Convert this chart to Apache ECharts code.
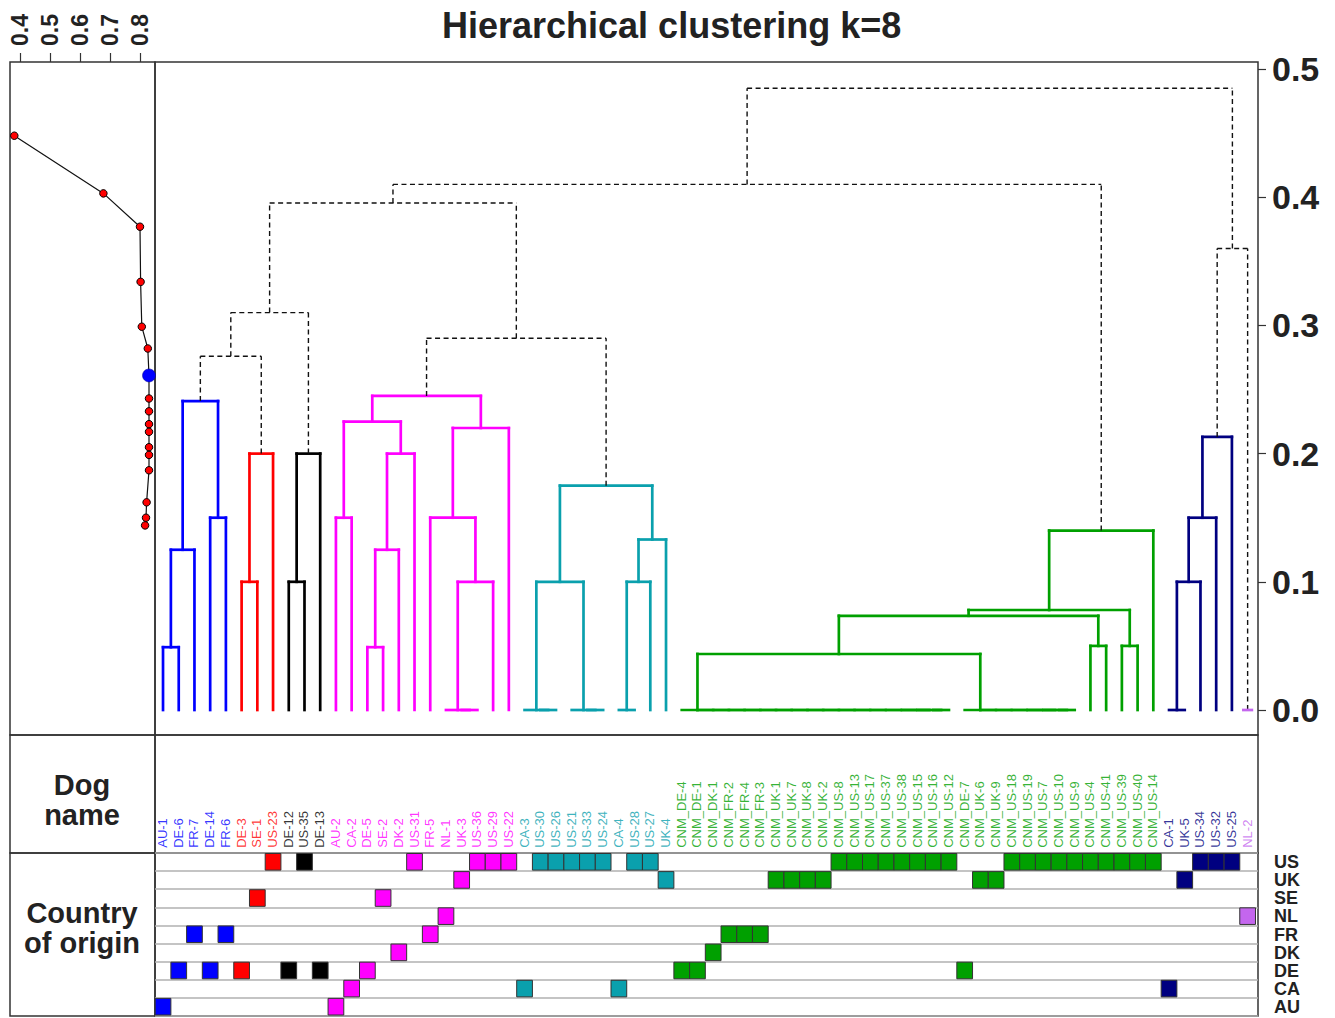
<!DOCTYPE html>
<html>
<head>
<meta charset="utf-8">
<script src="https://cdn.jsdelivr.net/npm/echarts@6/dist/echarts.min.js"></script>
<style>html,body{margin:0;padding:0;background:#fff}#c{width:1335px;height:1018px}</style>
</head>
<body>
<div id="c"></div>
<script>
// ---------------- DATA ----------------
const leafNames = ['AU-1','DE-6','FR-7','DE-14','FR-6','DE-3','SE-1','US-23','DE-12','US-35','DE-13',
 'AU-2','CA-2','DE-5','SE-2','DK-2','US-31','FR-5','NL-1','UK-3','US-36','US-29','US-22',
 'CA-3','US-30','US-26','US-21','US-33','US-24','CA-4','US-28','US-27','UK-4',
 'CNM_DE-4','CNM_DE-1','CNM_DK-1','CNM_FR-2','CNM_FR-4','CNM_FR-3','CNM_UK-1','CNM_UK-7','CNM_UK-8','CNM_UK-2',
 'CNM_US-8','CNM_US-13','CNM_US-17','CNM_US-37','CNM_US-38','CNM_US-15','CNM_US-16','CNM_US-12',
 'CNM_DE-7','CNM_UK-6','CNM_UK-9','CNM_US-18','CNM_US-19','CNM_US-7','CNM_US-10','CNM_US-9','CNM_US-4',
 'CNM_US-41','CNM_US-39','CNM_US-40','CNM_US-14','CA-1','UK-5','US-34','US-32','US-25','NL-2'];

const leafCluster = [0,0,0,0,0, 1,1,1, 2,2,2,
 3,3,3,3,3,3,3,3,3,3,3,3,
 4,4,4,4,4,4,4,4,4,4,
 5,5,5,5,5,5,5,5,5,5,5,5,5,5,5,5,5,5,5,5,5,5,5,5,5,5,5,5,5,5,5,
 6,6,6,6,6, 7];

const clusterColors = ['#0000FF','#FF0000','#000000','#FF00FF','#0AA0AD','#00A000','#000080','#C466EE'];

const countries = ['AU','CA','DE','DK','FR','NL','SE','UK','US']; // bottom to top

// merges (hclust style): negative = leaf (1-based), positive = earlier merge (1-based), height
const merges = [
 [-1,-2,0.049],[1,-3,0.125],[-4,-5,0.150],[2,3,0.241],
 [-6,-7,0.100],[5,-8,0.200],
 [-9,-10,0.100],[7,-11,0.200],
 [4,6,0.276],[9,8,0.310],
 [-12,-13,0.150],[-14,-15,0.049],[12,-16,0.125],[13,-17,0.200],[11,14,0.225],
 [-20,-21,0],[-19,16,0],[17,-22,0.100],[-18,18,0.150],[19,-23,0.220],[15,20,0.245],
 [-25,-26,0],[-24,22,0],[-28,-29,0],[-27,24,0],[23,25,0.100],
 [-30,-31,0],[27,-32,0.100],[28,-33,0.133],[26,29,0.175],
 [21,30,0.290],[10,31,0.3955],
 [-50,-51,0],[-49,33,0],[-48,34,0],[-47,35,0],[-46,36,0],[-45,37,0],[-44,38,0],[-43,39,0],
 [-42,40,0],[-41,41,0],[-40,42,0],[-39,43,0],[-38,44,0],[-37,45,0],[-36,46,0],[-35,47,0],[-34,48,0],
 [-58,-59,0],[-57,50,0],[-56,51,0],[-55,52,0],[-54,53,0],[-53,54,0],[-52,55,0],
 [49,56,0.0437],[-60,-61,0.050],[57,58,0.0735],[-62,-63,0.050],[59,60,0.078],[61,-64,0.140],
 [-65,-66,0],[63,-67,0.100],[64,-68,0.150],[65,-69,0.213],[66,-70,0.360],
 [32,62,0.410],[68,67,0.485]
];

const heightTicks = [0,0.1,0.2,0.3,0.4,0.5];

// left panel: score per k, at cut height
const kValues   = [2,3,4,5,6,7,8,9,10,11,12,13,14,15,16,17,18];
const scores    = [0.381,0.678,0.800,0.802,0.806,0.826,0.830,0.830,0.830,0.830,0.830,0.830,0.830,0.830,0.822,0.820,0.817];
const cutHeights= [0.448,0.403,0.377,0.334,0.299,0.282,0.261,0.243,0.233,0.223,0.217,0.205,0.199,0.187,0.162,0.150,0.144];
const scoreTicks = [0.4,0.5,0.6,0.7,0.8];
const selectedK = 8;

// ---------------- BUILD ----------------
const FONT = '"Liberation Sans", Arial, Helvetica, sans-serif';
const nodes = [];
function getNode(id){
  if (id < 0) return {x: -id, h: 0, cls: leafCluster[-id-1]};
  return nodes[id-1];
}
const segs = [];
merges.forEach(m => {
  const a = getNode(m[0]), b = getNode(m[1]), H = m[2];
  const cls = (a.cls === b.cls) ? a.cls : -1;
  segs.push([a.x, a.h, a.x, H, cls]);
  segs.push([b.x, b.h, b.x, H, cls]);
  segs.push([a.x, H, b.x, H, cls]);
  nodes.push({x:(a.x+b.x)/2, h:H, cls:cls});
});
// singleton cluster marks
const counts = {};
leafCluster.forEach(c => counts[c] = (counts[c]||0)+1);
leafCluster.forEach((c,i) => { if (counts[c] === 1) segs.push([i+1-0.27, 0, i+1+0.27, 0, c]); });

const leafCountry = leafNames.map(n => n.replace('CNM_','').split('-')[0]);
const cellData = leafNames.map((n,i) => [i+1, countries.indexOf(leafCountry[i]), leafCluster[i]]);

const X_MIN = 0.49, X_MAX = 70.66, Y_MIN = -0.0195, Y_MAX = 0.5055;
const frame = {show:true, borderColor:'#333', borderWidth:1.5, backgroundColor:'transparent'};

const option = {
  animation: false,
  backgroundColor: '#ffffff',
  title: { text: 'Hierarchical clustering k=8', left: 437, top: 2,
    textStyle: { fontFamily: FONT, fontSize: 36, fontWeight: 'bold', color: '#222' } },
  grid: [
    Object.assign({left:155, top:62, width:1103, height:673}, frame),
    Object.assign({left:10, top:62, width:145, height:673}, frame),
    Object.assign({left:155, top:735, width:1103, height:118}, frame),
    Object.assign({left:155, top:853, width:1103, height:163}, frame)
  ],
  xAxis: [
    {gridIndex:0, type:'value', min:X_MIN, max:X_MAX, show:false},
    {gridIndex:1, type:'value', min:0.4-10/300, max:0.85, position:'top',
      axisLine:{show:false, onZero:false}, splitLine:{show:false},
      axisTick:{show:true, inside:false, length:9, customValues:scoreTicks, lineStyle:{color:'#333', width:1.2}},
      axisLabel:{show:true, customValues:scoreTicks, rotate:-90, margin:16, fontFamily:FONT, fontSize:23, fontWeight:'bold', color:'#222',
        formatter: v => v.toFixed(1)}},
    {gridIndex:2, type:'value', min:X_MIN, max:X_MAX, show:false},
    {gridIndex:3, type:'value', min:X_MIN, max:X_MAX, show:false}
  ],
  yAxis: [
    {gridIndex:0, type:'value', min:Y_MIN, max:Y_MAX, position:'right',
      axisLine:{show:false, onZero:false}, splitLine:{show:false},
      axisTick:{show:true, inside:false, length:8, customValues:heightTicks, lineStyle:{color:'#333', width:1.2}},
      axisLabel:{show:true, customValues:heightTicks, margin:14, fontFamily:FONT, fontSize:34, fontWeight:'bold', color:'#222',
        formatter: v => v.toFixed(1)}},
    {gridIndex:1, type:'value', min:Y_MIN, max:Y_MAX, show:false},
    {gridIndex:2, type:'value', min:0, max:1, show:false},
    {gridIndex:3, type:'category', data:countries, position:'right',
      axisLine:{show:false, onZero:false}, axisTick:{show:false},
      splitLine:{show:true, interval:0, lineStyle:{color:'#b0b0b0', width:1.5}},
      axisLabel:{show:true, interval:0, margin:16, fontFamily:FONT, fontSize:18, fontWeight:'bold', color:'#222', lineHeight:17}}
  ],
  series: [
    { type:'custom', xAxisIndex:0, yAxisIndex:0, data:segs, encode:{x:[0,2], y:[1,3]}, clip:false,
      renderItem: function(params, api){
        const p1 = api.coord([api.value(0), api.value(1)]);
        const p2 = api.coord([api.value(2), api.value(3)]);
        const c = api.value(4);
        const dashed = c < 0;
        return {type:'line', shape:{x1:p1[0], y1:p1[1], x2:p2[0], y2:p2[1]},
          style:{stroke: dashed ? '#111' : clusterColors[c], lineWidth: dashed ? 1.4 : 2.7,
            lineDash: dashed ? [5,3.5] : null, lineCap: dashed ? 'butt' : 'square'}};
      }},
    { type:'line', xAxisIndex:1, yAxisIndex:1, clip:false,
      data: scores.map((s,i) => {
        const sel = kValues[i] === selectedK;
        return sel ? {value:[s, cutHeights[i]], symbolSize:13, itemStyle:{color:'#0000FF', borderColor:'#00008a', borderWidth:0.5}}
                   : {value:[s, cutHeights[i]]};
      }),
      symbol:'circle', symbolSize:7.5,
      itemStyle:{color:'#FF0000', borderColor:'#000', borderWidth:1},
      lineStyle:{color:'#111', width:1.2}, z:3 },
    { type:'scatter', xAxisIndex:2, yAxisIndex:2, symbolSize:1, itemStyle:{color:'rgba(0,0,0,0)'}, clip:false,
      data: leafNames.map((n,i) => ({value:[i+1, 0.04], name:n, label:{color: clusterColors[leafCluster[i]]}})),
      label:{show:true, formatter:'{b}', position:[0,0], rotate:90, align:'left', verticalAlign:'middle',
        fontFamily:FONT, fontSize:13}},
    { type:'custom', xAxisIndex:3, yAxisIndex:3, data:cellData, encode:{x:0, y:1},
      renderItem: function(params, api){
        const c = api.coord([api.value(0), api.value(1)]);
        const s = api.size([1,1]);
        return {type:'rect', shape:{x:c[0]-s[0]/2, y:c[1]-s[1]/2+0.5, width:s[0], height:s[1]-1.5},
          style:{fill: clusterColors[api.value(2)], stroke:'#333', lineWidth:1}};
      }}
  ],
  graphic: [
    {type:'rect', shape:{x:10, y:735, width:145, height:118}, style:{fill:'none', stroke:'#333', lineWidth:1.5}},
    {type:'rect', shape:{x:10, y:853, width:145, height:163}, style:{fill:'none', stroke:'#333', lineWidth:1.5}},
    {type:'text', x:82, y:785, style:{text:'Dog', font:'bold 29px ' + FONT, fill:'#222', textAlign:'center', textVerticalAlign:'middle'}},
    {type:'text', x:82, y:815, style:{text:'name', font:'bold 29px ' + FONT, fill:'#222', textAlign:'center', textVerticalAlign:'middle'}},
    {type:'text', x:82, y:913, style:{text:'Country', font:'bold 29px ' + FONT, fill:'#222', textAlign:'center', textVerticalAlign:'middle'}},
    {type:'text', x:82, y:943, style:{text:'of origin', font:'bold 29px ' + FONT, fill:'#222', textAlign:'center', textVerticalAlign:'middle'}}
  ]
};

const chart = echarts.init(document.getElementById('c'), null, {renderer:'svg'});
chart.setOption(option);
</script>
</body>
</html>
